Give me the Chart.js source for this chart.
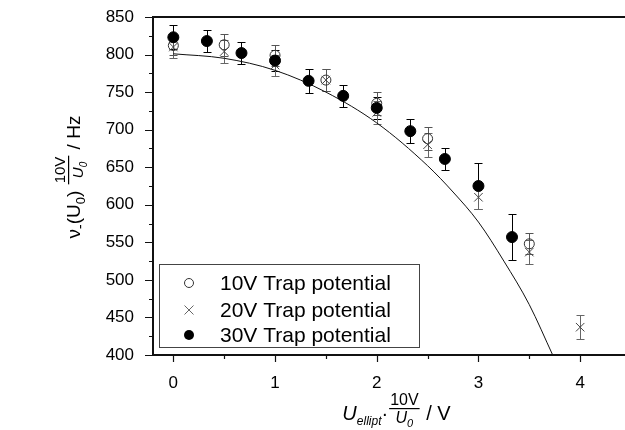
<!DOCTYPE html>
<html>
<head>
<meta charset="utf-8">
<script src="https://cdn.jsdelivr.net/npm/chart.js@4"></script>
<style>
html, body { margin: 0; padding: 0; overflow: hidden; background: #fff; }
#grafico { position: absolute; left: 0; top: 0; }
</style>
</head>
<body>
<canvas id="grafico" width="632" height="430"></canvas>
<script>
// 10V trap potential (open circles)
const x10 = [0, 0.5, 1, 1.5, 2, 2.5, 3.5];
const v10 = [812, 813, 799, 766, 735, 688, 548];
const e10 = [13, 15, 14, 15, 15, 15, 14];

// 20V trap potential (crosses)
const x20 = [0, 0.5, 1, 1.5, 2, 2.5, 3, 3.5, 4];
const v20 = [810, 804, 786, 766, 723, 680, 610, 537, 437];
const e20 = [14, 15, 14, 15, 15, 16, 16, 16, 16];

// 30V trap potential (filled circles)
const x30 = [0, 0.33, 0.67, 1, 1.33, 1.67, 2, 2.33, 2.67, 3, 3.33];
const v30 = [823, 818, 802, 792, 765, 745, 729, 698, 661, 625, 557];
const e30 = [16, 15, 15, 14, 16, 15, 15, 16, 15, 31, 31];

// theory curve
const xCurve = [0, 0.5, 1, 1.5, 2, 2.5, 2.75, 3, 3.25, 3.5, 3.73];
const vCurve = [801, 795, 779, 750, 709, 652, 617, 577, 525, 467, 400];

const xTicks = [0, 1, 2, 3, 4];
const yTicks = [400, 450, 500, 550, 600, 650, 700, 750, 800, 850];

const legendLabels = ['10V Trap potential', '20V Trap potential', '30V Trap potential'];

const FONT = 'Arial, "Liberation Sans", sans-serif';

function points(xs, ys) {
    return xs.map((x, i) => ({ x: x, y: ys[i] }));
}

const errorBars = {
    id: 'errorBars',
    beforeDatasetsDraw(chart) {
        const c = chart.ctx;
        const sx = chart.scales.x, sy = chart.scales.y;
        chart.data.datasets.forEach(ds => {
            if (!ds.errors) return;
            c.save();
            c.strokeStyle = ds.errorColor;
            c.lineWidth = 1;
            ds.data.forEach((p, i) => {
                const px = Math.round(sx.getPixelForValue(p.x)) + 0.5;
                const top = Math.round(sy.getPixelForValue(p.y + ds.errors[i])) + 0.5;
                const bot = Math.round(sy.getPixelForValue(p.y - ds.errors[i])) + 0.5;
                c.beginPath();
                c.moveTo(px, top); c.lineTo(px, bot);
                c.moveTo(px - 4, top); c.lineTo(px + 4, top);
                c.moveTo(px - 4, bot); c.lineTo(px + 4, bot);
                c.stroke();
            });
            c.restore();
        });
    }
};

function measureParts(c, parts) {
    let w = 0;
    parts.forEach(p => {
        if (p.frac) {
            c.font = p.numFont;
            const nw = c.measureText(p.num).width;
            const dw = measureParts(c, p.den);
            p.w = Math.max(nw, dw) + 4;
        } else {
            c.font = p.font;
            p.w = c.measureText(p.text).width;
        }
        w += p.w;
    });
    return w;
}

function drawParts(c, parts, x, y) {
    parts.forEach(p => {
        if (p.frac) {
            c.font = p.numFont;
            c.textAlign = 'center';
            c.fillText(p.num, x + p.w / 2, y - 15);
            c.fillRect(x + 1, y - 12, p.w - 2, 1.2);
            c.textAlign = 'left';
            const dw = measureParts(c, p.den);
            drawParts(c, p.den, x + (p.w - dw) / 2, y + 3);
        } else {
            c.font = p.font;
            c.textAlign = 'left';
            c.fillText(p.text, x, y + (p.dy || 0));
        }
        x += p.w;
    });
}

const extras = {
    id: 'extras',
    afterDraw(chart) {
        const c = chart.ctx;
        const a = chart.chartArea;
        const sx = chart.scales.x, sy = chart.scales.y;
        c.save();
        c.strokeStyle = '#111';
        c.fillStyle = '#000';

        // top frame line
        c.lineWidth = 2;
        c.beginPath();
        c.moveTo(a.left - 1, a.top); c.lineTo(a.right, a.top);
        c.stroke();

        // tick marks, outward
        c.lineWidth = 1.2;
        c.beginPath();
        for (let v = 400; v <= 850; v += 25) {
            const py = Math.round(sy.getPixelForValue(v)) + 0.5;
            const len = v % 50 === 0 ? 8 : 4;
            c.moveTo(a.left - len, py); c.lineTo(a.left, py);
        }
        for (let v = 0; v <= 4.5; v += 0.5) {
            const px = Math.round(sx.getPixelForValue(v)) + 0.5;
            const len = v % 1 === 0 ? 7 : 4;
            c.moveTo(px, a.bottom); c.lineTo(px, a.bottom + len);
        }
        c.stroke();

        // legend
        c.lineWidth = 1;
        c.strokeStyle = '#444';
        c.strokeRect(159.5, 264.5, 260, 83);
        const rows = [283, 310, 335];
        const sxm = 189;
        c.strokeStyle = '#333';
        c.beginPath(); c.arc(sxm, rows[0], 4.5, 0, Math.PI * 2); c.stroke();
        c.strokeStyle = '#666';
        c.beginPath();
        c.moveTo(sxm - 4.5, rows[1] - 4.5); c.lineTo(sxm + 4.5, rows[1] + 4.5);
        c.moveTo(sxm - 4.5, rows[1] + 4.5); c.lineTo(sxm + 4.5, rows[1] - 4.5);
        c.stroke();
        c.beginPath(); c.arc(sxm, rows[2], 5, 0, Math.PI * 2); c.fill();
        c.font = '21px ' + FONT;
        c.textBaseline = 'middle';
        legendLabels.forEach((t, i) => c.fillText(t, 220, rows[i] + 1));

        // axis titles
        c.textBaseline = 'alphabetic';
        const yParts = [
            { text: 'ν', font: '19px ' + FONT },
            { text: '-', font: '14px ' + FONT, dy: 5 },
            { text: '(U', font: '19px ' + FONT },
            { text: '0', font: '13px ' + FONT, dy: 5 },
            { text: ') ', font: '19px ' + FONT },
            { frac: true, num: '10V', numFont: '15px ' + FONT,
              den: [{ text: 'U', font: 'italic 15px ' + FONT }, { text: '0', font: 'italic 10px ' + FONT, dy: 4 }] },
            { text: ' / Hz', font: '19px ' + FONT }
        ];
        const yw = measureParts(c, yParts);
        c.save();
        c.translate(80, 177);
        c.rotate(-Math.PI / 2);
        drawParts(c, yParts, -yw / 2, 0);
        c.restore();

        const xParts = [
            { text: 'U', font: 'italic 20px ' + FONT },
            { text: 'ellipt', font: 'italic 12px ' + FONT, dy: 5 },
            { text: '·', font: '20px ' + FONT },
            { frac: true, num: '10V', numFont: '16px ' + FONT,
              den: [{ text: 'U', font: 'italic 16px ' + FONT }, { text: '0', font: 'italic 11px ' + FONT, dy: 4 }] },
            { text: ' / V', font: '20px ' + FONT }
        ];
        const xw = measureParts(c, xParts);
        drawParts(c, xParts, 396.5 - xw / 2, 420);
        c.restore();
    }
};

const data = {
    datasets: [
        {
            label: legendLabels[2],
            data: points(x30, v30),
            errors: e30,
            errorColor: '#000',
            pointStyle: 'circle',
            pointRadius: 5.5,
            backgroundColor: '#000',
            borderColor: '#000',
            borderWidth: 1,
            order: 0
        },
        {
            label: legendLabels[1],
            data: points(x20, v20),
            errors: e20,
            errorColor: '#666',
            pointStyle: 'crossRot',
            pointRadius: 6,
            borderColor: '#444',
            borderWidth: 1,
            order: 1
        },
        {
            label: legendLabels[0],
            data: points(x10, v10),
            errors: e10,
            errorColor: '#555',
            pointStyle: 'circle',
            pointRadius: 5,
            backgroundColor: 'rgba(255,255,255,0)',
            borderColor: '#333',
            borderWidth: 1,
            order: 2
        },
        {
            label: 'fit',
            data: points(xCurve, vCurve),
            showLine: true,
            cubicInterpolationMode: 'monotone',
            pointRadius: 0,
            borderColor: '#111',
            borderWidth: 1,
            order: 3
        }
    ]
};

const options = {
    responsive: false,
    animation: false,
    events: [],
    layout: { autoPadding: false, padding: { top: 17, right: 1, left: 0, bottom: 0 } },
    plugins: {
        legend: { display: false },
        tooltip: { enabled: false }
    },
    scales: {
        x: {
            type: 'linear',
            min: -0.2,
            max: 4.5,
            afterBuildTicks: s => { s.ticks = xTicks.map(v => ({ value: v })); },
            afterFit: s => { s.height = 75; s.paddingLeft = 0; s.paddingRight = 0; },
            grid: { display: false },
            border: { display: true, color: '#111', width: 2 },
            ticks: { color: '#000', padding: 10, font: { family: FONT, size: 17 } }
        },
        y: {
            type: 'linear',
            min: 400,
            max: 850,
            afterBuildTicks: s => { s.ticks = yTicks.map(v => ({ value: v })); },
            afterFit: s => { s.width = 153; s.paddingTop = 0; s.paddingBottom = 0; },
            grid: { display: false },
            border: { display: true, color: '#111', width: 2 },
            ticks: { color: '#000', padding: 11, font: { family: FONT, size: 17 } }
        }
    }
};

const myChart = new Chart(document.getElementById('grafico'), {
    type: 'scatter',
    data: data,
    options: options,
    plugins: [errorBars, extras]
});
</script>
</body>
</html>
